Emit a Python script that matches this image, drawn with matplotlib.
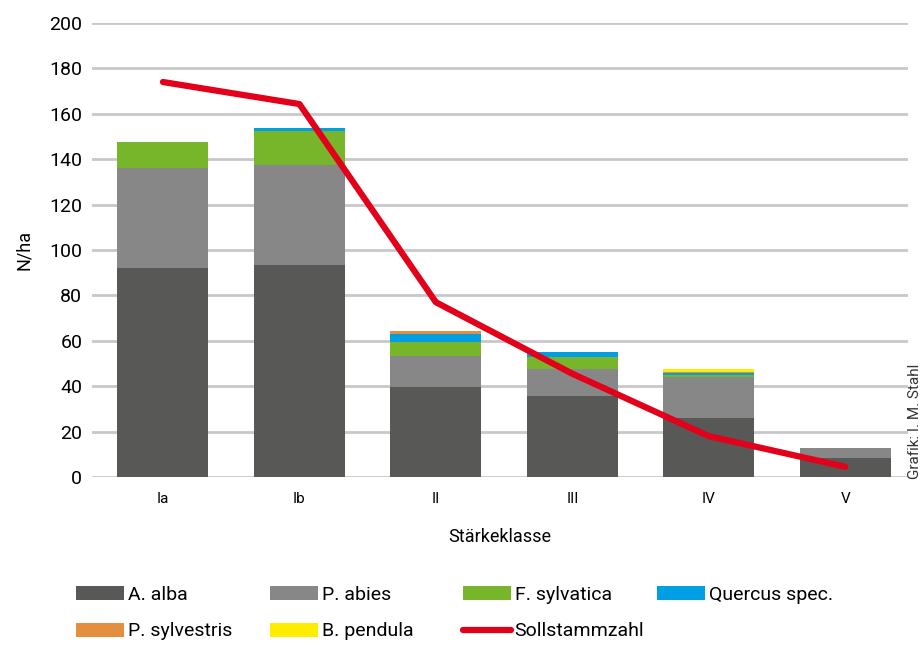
import numpy as np
import matplotlib
matplotlib.use("Agg")
import matplotlib.pyplot as plt

plt.rcParams['font.family'] = ['Roboto', 'DejaVu Sans']

# Stärkeklassen und Stammzahlen je Baumart (N/ha)
klassen = ['Ia', 'Ib', 'II', 'III', 'IV', 'V']
a_alba = [92.2, 93.4, 39.6, 35.7, 26.0, 8.5]
p_abies = [44.1, 44.0, 13.7, 11.9, 18.2, 4.3]
f_sylvatica = [11.3, 15.0, 6.2, 5.3, 0.6, 0.0]
quercus = [0.0, 1.3, 3.5, 2.1, 0.8, 0.0]
p_sylvestris = [0.0, 0.0, 1.3, 0.0, 0.8, 0.0]
b_pendula = [0.0, 0.0, 0.0, 0.0, 1.2, 0.0]
soll = [174, 164.3, 77, 45.5, 18, 4.5]

arten = ['A. alba', 'P. abies', 'F. sylvatica', 'Quercus spec.',
         'P. sylvestris', 'B. pendula']
farben = ['#585857', '#878787', '#77b52a', '#009fe3', '#e38f3f', '#ffed00']
rot = '#e2001a'

fig = plt.figure(figsize=(9.23, 6.5), dpi=100)
ax = fig.add_axes([92 / 923, 1 - 477 / 650, 816 / 923, 454 / 650])

x = np.arange(len(klassen))
unten = np.zeros(len(klassen))
balken = []
for werte, farbe, name in zip([a_alba, p_abies, f_sylvatica, quercus,
                               p_sylvestris, b_pendula], farben, arten):
    b = ax.bar(x, werte, width=0.667, bottom=unten, color=farbe, label=name,
               zorder=2)
    balken.append(b)
    unten += np.array(werte)

linie, = ax.plot(x, soll, color=rot, lw=4.5, solid_capstyle='round',
                 solid_joinstyle='round', zorder=3, label='Sollstammzahl')

ax.set_xlim(-0.52, 5.46)
ax.set_ylim(0, 200)
ax.set_yticks(np.arange(0, 201, 20))
ax.set_xticks(x)
ax.set_xticklabels(klassen, fontsize=11)
ax.tick_params(axis='y', length=0, labelsize=14, pad=7)
ax.tick_params(axis='x', length=0, pad=11)
ax.yaxis.grid(True, color='#c8c8c8', lw=2, zorder=0)
ax.set_axisbelow(True)
for s in ax.spines.values():
    s.set_visible(False)

ax.set_xlabel('Stärkeklasse', fontsize=13, labelpad=16)
ax.set_ylabel('N/ha', fontsize=13, labelpad=12)

# Legende: vier Spalten, zeilenweise gefüllt
spalten = [([balken[0], balken[4]], ['A. alba', 'P. sylvestris'], 76),
           ([balken[1], balken[5]], ['P. abies', 'B. pendula'], 270),
           ([balken[2], linie], ['F. sylvatica', 'Sollstammzahl'], 463),
           ([balken[3]], ['Quercus spec.'], 657)]
for handles, labels, xpos in spalten:
    leg = fig.legend(handles, labels, loc='upper left',
                     bbox_to_anchor=(xpos / 923, 1 - 586 / 650),
                     frameon=False, fontsize=14, handlelength=2.45,
                     handleheight=0.72, handletextpad=0.2, labelspacing=0.95,
                     borderpad=0, borderaxespad=0)

fig.text(908 / 923, 1 - 479 / 650, 'Grafik: I. M. Stahl', rotation=90,
         ha='left', va='bottom', fontsize=11, color='#333333')

fig.savefig('out.png', dpi=100)
